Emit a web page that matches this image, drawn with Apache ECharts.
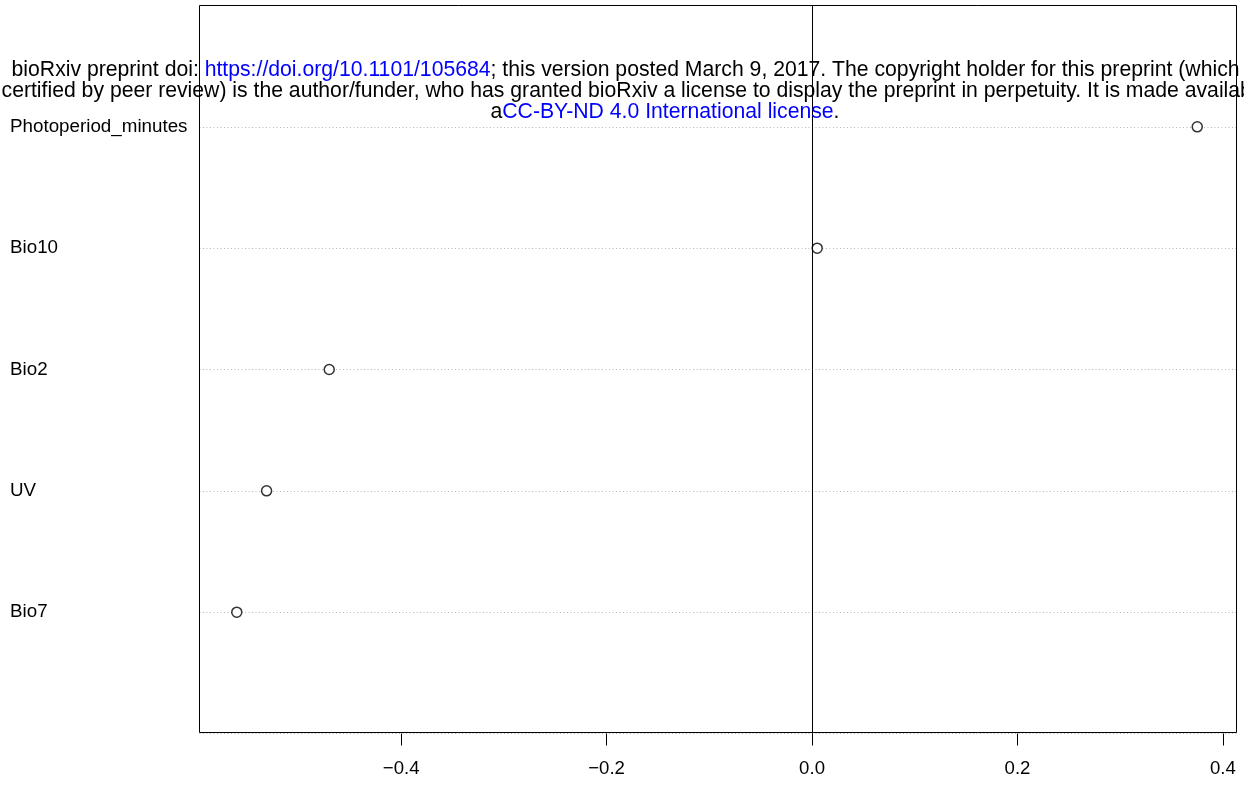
<!DOCTYPE html>
<html>
<head>
<meta charset="utf-8">
<script src="https://cdn.jsdelivr.net/npm/echarts@6/dist/echarts.min.js"></script>
<style>
html,body{margin:0;padding:0;background:#fff;overflow:hidden;}
#chart{width:1244px;height:787px;}
</style>
</head>
<body>
<div id="chart"></div>
<script>
var categories = ['Bio7', 'UV', 'Bio2', 'Bio10', 'Photoperiod_minutes'];
var values = [-0.560, -0.531, -0.470, 0.005, 0.375];
var xTicks = [-0.4, -0.2, 0.0, 0.2, 0.4];

var chart = echarts.init(document.getElementById('chart'));
var FONT = '"Liberation Sans", Arial, Helvetica, sans-serif';

var points = categories.map(function (c, i) { return [values[i], i + 1]; });

chart.setOption({
  animation: false,
  backgroundColor: '#fff',
  grid: {
    left: 199.5, right: 7.5, top: 5.5, bottom: 53.5,
    show: false
  },
  xAxis: {
    type: 'value',
    min: -0.5963, max: 0.4132,
    interval: 0.2,
    axisLine: { show: false },
    axisTick: { show: true, length: 12, lineStyle: { color: '#000', width: 1 },
      customValues: xTicks },
    axisLabel: {
      margin: 26, fontSize: 18.6, color: '#000', fontFamily: FONT,
      customValues: xTicks,
      formatter: function (v) {
        var s = Math.abs(v).toFixed(1);
        return (v < -1e-9 ? '\u2212' : '') + s;
      }
    },
    splitLine: { show: false }
  },
  yAxis: {
    type: 'value',
    min: 0, max: 6, interval: 1,
    axisLine: { show: false },
    axisTick: { show: false },
    axisLabel: {
      align: 'left', margin: 189.5, fontSize: 18.8, color: '#000', fontFamily: FONT,
      formatter: function (v) { return categories[v - 1] || ''; }
    },
    splitLine: { show: true, lineStyle: { color: '#b4b4b4', type: [1, 2.5], width: 1 } }
  },
  series: [{
    type: 'scatter',
    data: points,
    symbol: 'circle',
    symbolSize: 10,
    itemStyle: { color: '#fff', borderColor: '#000', borderWidth: 1.5 },
    markLine: {
      silent: true,
      symbol: ['none', 'none'],
      label: { show: false },
      lineStyle: { color: '#000', type: 'solid', width: 1 },
      data: [{ xAxis: 0 }]
    },
    z: 3
  }],
  graphic: [{
    type: 'rect',
    z: 50,
    silent: true,
    shape: { x: 199.5, y: 5.5, width: 1037, height: 727 },
    style: { fill: null, stroke: '#000', lineWidth: 1 }
  }, {
    type: 'text',
    x: 665, y: 60,
    z: 100,
    style: {
      text: '{k|bioRxiv preprint doi: }{b|https://doi.org/10.1101/105684}{k|; this version posted March 9, 2017. The copyright holder for this preprint (which was not}\n' +
            '{k|certified by peer review) is the author/funder, who has granted bioRxiv a license to display the preprint in perpetuity. It is made available under}\n' +
            '{k|a}{b|CC-BY-ND 4.0 International license}{k|.}',
      align: 'center',
      verticalAlign: 'top',
      font: '21.2px ' + FONT,
      fill: '#000',
      lineHeight: 21,
      rich: {
        k: { fontSize: 21.2, fontFamily: FONT, fill: '#000', lineHeight: 21 },
        b: { fontSize: 21.2, fontFamily: FONT, fill: '#0000ff', lineHeight: 21 }
      }
    }
  }]
});
</script>
</body>
</html>
